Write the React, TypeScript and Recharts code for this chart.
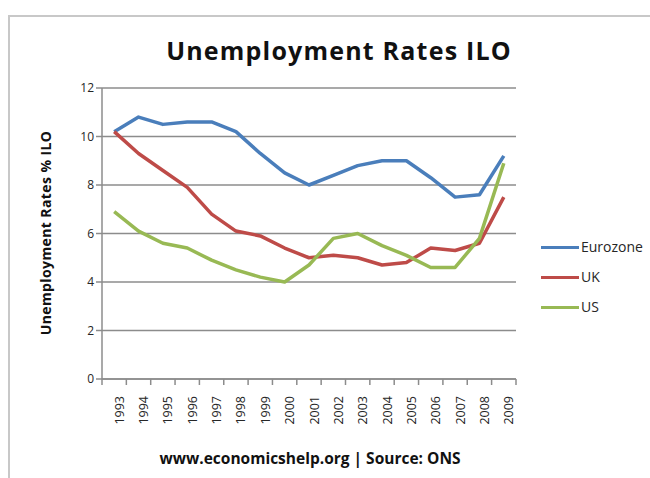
import { LineChart, Line, XAxis, YAxis, CartesianGrid } from "recharts";

const years = ["1993", "1994", "1995", "1996", "1997", "1998", "1999", "2000", "2001", "2002", "2003", "2004", "2005", "2006", "2007", "2008", "2009"];
const eurozone = [10.2, 10.8, 10.5, 10.6, 10.6, 10.2, 9.3, 8.5, 8.0, 8.4, 8.8, 9.0, 9.0, 8.3, 7.5, 7.6, 9.2];
const uk = [10.2, 9.3, 8.6, 7.9, 6.8, 6.1, 5.9, 5.4, 5.0, 5.1, 5.0, 4.7, 4.8, 5.4, 5.3, 5.6, 7.5];
const us = [6.9, 6.1, 5.6, 5.4, 4.9, 4.5, 4.2, 4.0, 4.7, 5.8, 6.0, 5.5, 5.1, 4.6, 4.6, 5.8, 8.9];
const yTicks = [0, 2, 4, 6, 8, 10, 12];

const series = [
  { key: "Eurozone", color: "#4a7ebb" },
  { key: "UK", color: "#be4b48" },
  { key: "US", color: "#98b954" },
];

const data = years.map((year, i) => ({
  year,
  Eurozone: eurozone[i],
  UK: uk[i],
  US: us[i],
}));

const FONT = "'Open Sans', sans-serif";
const AXIS = "#8c8c8c";
const HALF_BAND = 12.2;

// year label rotated, tick marks sit on category boundaries like in Excel
function YearTick({ x, y, payload, index }: any) {
  const ty = y + 17;
  return (
    <g>
      <line x1={x - HALF_BAND} y1={y} x2={x - HALF_BAND} y2={y + 6} stroke={AXIS} strokeWidth={1.5} />
      {index === years.length - 1 && (
        <line x1={x + HALF_BAND} y1={y} x2={x + HALF_BAND} y2={y + 6} stroke={AXIS} strokeWidth={1.5} />
      )}
      <text
        x={x + 5}
        y={ty}
        transform={`rotate(-90, ${x + 5}, ${ty})`}
        textAnchor="end"
        dominantBaseline="central"
        fontSize={12.5}
        fill="#262626"
        fontFamily={FONT}
      >
        {payload.value}
      </text>
    </g>
  );
}

function LegendBox() {
  return (
    <div style={{ position: "absolute", left: 541, top: 232, fontFamily: FONT, fontSize: 14, color: "#262626" }}>
      {series.map((s) => (
        <div key={s.key} style={{ display: "flex", alignItems: "center", height: 30 }}>
          <div style={{ width: 38, height: 3, background: s.color, marginRight: 2 }} />
          <span style={{ lineHeight: "30px" }}>{s.key}</span>
        </div>
      ))}
    </div>
  );
}

export default function App() {
  return (
    <div style={{ position: "absolute", left: 0, top: 0, width: 650, height: 478, background: "#fff", overflow: "hidden" }}>
      <div
        style={{
          position: "absolute",
          left: 8,
          top: 15,
          width: 700,
          height: 500,
          borderLeft: "2px solid #c8c8c8",
          borderTop: "2px solid #c8c8c8",
        }}
      />
      <div
        style={{
          position: "absolute",
          left: 39,
          width: 600,
          top: 38,
          lineHeight: "25px",
          textAlign: "center",
          fontFamily: FONT,
          fontWeight: 700,
          fontSize: 25,
          letterSpacing: 1.2,
          color: "#111",
        }}
      >
        Unemployment Rates ILO
      </div>
      <div
        style={{
          position: "absolute",
          left: 45,
          top: 233,
          transform: "translate(-50%, -50%) rotate(-90deg)",
          whiteSpace: "nowrap",
          fontFamily: FONT,
          fontWeight: 700,
          fontSize: 14,
          letterSpacing: 0.4,
          color: "#111",
        }}
      >
        Unemployment Rates % ILO
      </div>
      <div
        style={{
          position: "absolute",
          left: 10,
          width: 600,
          top: 450,
          lineHeight: "16px",
          textAlign: "center",
          fontFamily: FONT,
          fontWeight: 700,
          fontSize: 15.5,
          color: "#111",
        }}
      >
        www.economicshelp.org | Source: ONS
      </div>
      <div style={{ position: "absolute", left: 0, top: 0 }}>
        <LineChart width={650} height={478} data={data} margin={{ top: 88, right: 134, bottom: 59, left: 42 }}>
          <CartesianGrid vertical={false} stroke={AXIS} strokeWidth={1.5} />
          <XAxis
            dataKey="year"
            interval={0}
            height={40}
            padding={{ left: HALF_BAND, right: HALF_BAND }}
            tickLine={false}
            tickSize={0}
            tickMargin={0}
            axisLine={{ stroke: AXIS, strokeWidth: 1.5 }}
            tick={<YearTick />}
          />
          <YAxis
            domain={[0, 12]}
            ticks={yTicks}
            width={60}
            tickSize={6}
            tickLine={{ stroke: AXIS, strokeWidth: 1.5 }}
            axisLine={{ stroke: AXIS, strokeWidth: 1.5 }}
            tick={{ fontSize: 12, fill: "#262626", fontFamily: FONT }}
          />
          {series.map((s) => (
            <Line
              key={s.key}
              dataKey={s.key}
              type="linear"
              stroke={s.color}
              strokeWidth={3.5}
              dot={false}
              strokeLinejoin="round"
              isAnimationActive={false}
            />
          ))}
        </LineChart>
      </div>
      <LegendBox />
    </div>
  );
}
